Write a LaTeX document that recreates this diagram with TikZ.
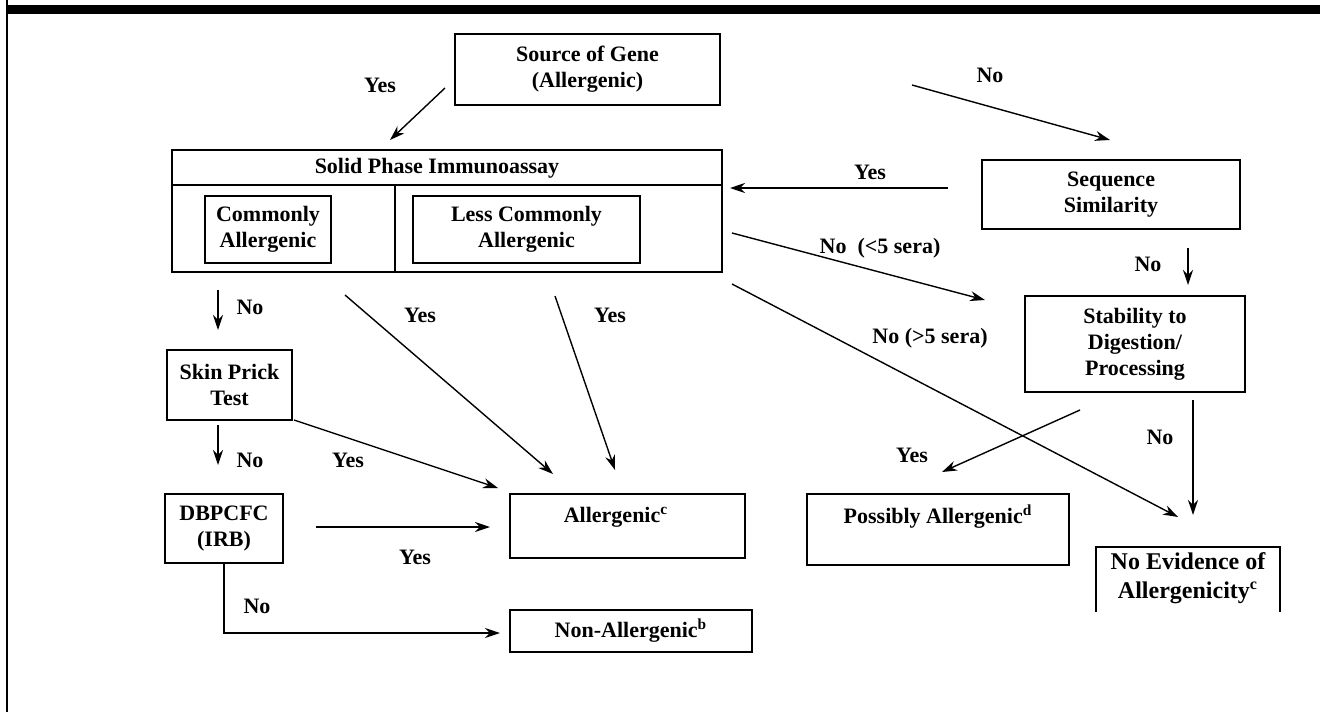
\documentclass[tikz,border=0pt]{standalone}
\usepackage{fontspec}
\setmainfont{Liberation Serif}
\usetikzlibrary{arrows.meta}

\tikzset{
  box/.style={draw, line width=0.8pt, align=center, inner sep=0pt},
  flow/.style={-{Stealth[length=7.5pt,width=5pt]}, line width=0.7pt},
}

\begin{document}
\begin{tikzpicture}[x=0.5pt, y=-0.5pt, font=\fontsize{11}{13}\selectfont\bfseries]
            \useasboundingbox (0,0) rectangle (1326,712);
            % page frame
            \fill (8,5) rectangle (1320,14);
            \draw[line width=1pt] (7,0) -- (7,712);
            % boxes
            \begin{scope}[every node/.style={box}]
                \node[minimum width=132.5pt, minimum height=35.5pt] (src) at (587.5,69.5) {\fontsize{11}{12}\selectfont Source of Gene\\(Allergenic)};
                \node[minimum width=275pt, minimum height=61pt] (spi) at (447,211) {};
                \node[minimum width=63pt, minimum height=33.5pt] (common) at (268,229.5) {Commonly\\Allergenic};
                \node[minimum width=113.5pt, minimum height=33.5pt] (less) at (526.5,229.5) {Less Commonly\\Allergenic};
                \node[minimum width=129pt, minimum height=34.5pt] (seq) at (1111,194.5) {Sequence\\Similarity};
                \node[minimum width=110pt, minimum height=48pt] (stab) at (1135,344) {Stability to\\Digestion/\\Processing};
                \node[minimum width=62.5pt, minimum height=35pt] (skin) at (229.5,385) {Skin Prick\\Test};
                \node[minimum width=59pt, minimum height=34.5pt] (dbp) at (224,528.5) {DBPCFC\\(IRB)};
                \node[minimum width=117.5pt, minimum height=32pt] (allerg) at (627.5,526) {};
                \node[minimum width=131pt, minimum height=35.5pt] (possible) at (938,529.5) {};
                \node[minimum width=121pt, minimum height=21pt] (nonall) at (631,631) {Non-Allergenic\textsuperscript{b}};
            \end{scope}
            \draw[line width=1.2pt] (172,185) -- (722,185);
            \draw[line width=0.8pt] (395,185) -- (395,272);
            \draw[line width=0.8pt] (1096,612) -- (1096,547) -- (1280,547) -- (1280,612);
            \node (spititle) at (437,168) {Solid Phase Immunoassay};
            \node (allergtxt) at (616,517) {Allergenic\textsuperscript{c}};
            \node (possibletxt) at (938,517) {Possibly Allergenic\textsuperscript{d}};
            \node[align=center, font=\fontsize{12}{14.5}\selectfont\bfseries] (noevid) at (1188,578) {No Evidence of\\Allergenicity\textsuperscript{c}};
            % arrow ends
            \coordinate (y1a) at (445,88);   \coordinate (y1b) at (390,140);
            \coordinate (n1a) at (912,85);   \coordinate (n1b) at (1110,140);
            \coordinate (y2a) at (948,188);  \coordinate (y2b) at (730,188);
            \coordinate (n2a) at (732,233);  \coordinate (n2b) at (985,300);
            \coordinate (n3a) at (732,284);  \coordinate (n3b) at (1178,517);
            \coordinate (n4a) at (1188,248); \coordinate (n4b) at (1188,285);
            \coordinate (n5a) at (1193,400); \coordinate (n5b) at (1193,515);
            \coordinate (y3a) at (1080,410); \coordinate (y3b) at (942,472);
            \coordinate (n6a) at (218,290);  \coordinate (n6b) at (218,330);
            \coordinate (y4a) at (345,295);  \coordinate (y4b) at (553,474);
            \coordinate (y5a) at (555,296);  \coordinate (y5b) at (615,470);
            \coordinate (y6a) at (294,420);  \coordinate (y6b) at (498,488);
            \coordinate (n7a) at (218,425);  \coordinate (n7b) at (218,465);
            \coordinate (y7a) at (316,527);  \coordinate (y7b) at (490,527);
            \coordinate (n8b) at (500,633);
            % connectors
            \draw (y1a) edge [flow] (y1b);
            \draw (n1a) edge [flow] (n1b);
            \draw (y2a) edge [flow] (y2b);
            \draw (n2a) edge [flow] (n2b);
            \draw (n3a) edge [flow] (n3b);
            \draw (n4a) edge [flow] (n4b);
            \draw (n5a) edge [flow] (n5b);
            \draw (y3a) edge [flow] (y3b);
            \draw (n6a) edge [flow] (n6b);
            \draw (y4a) edge [flow] (y4b);
            \draw (y5a) edge [flow] (y5b);
            \draw (y6a) edge [flow] (y6b);
            \draw (n7a) edge [flow] (n7b);
            \draw (y7a) edge [flow] (y7b);
            \draw[flow] (dbp.south) |- (n8b);
            % labels
            \node (ly1) at (380,85) {Yes};
            \node (ln1) at (990,75) {No};
            \node (ly2) at (870,172) {Yes};
            \node (ln2) at (880,248) {No\ \ (<5 sera)};
            \node (ln3) at (930,338) {No (>5 sera)};
            \node (ln4) at (1148,264) {No};
            \node (ln5) at (1160,437) {No};
            \node (ly3) at (912,455) {Yes};
            \node (ln6) at (250,307) {No};
            \node (ly4) at (420,315) {Yes};
            \node (ly5) at (610,315) {Yes};
            \node (ly6) at (348,460) {Yes};
            \node (ln7) at (250,460) {No};
            \node (ly7) at (415,557) {Yes};
            \node (ln8) at (257,606) {No};
\end{tikzpicture}
\end{document}
